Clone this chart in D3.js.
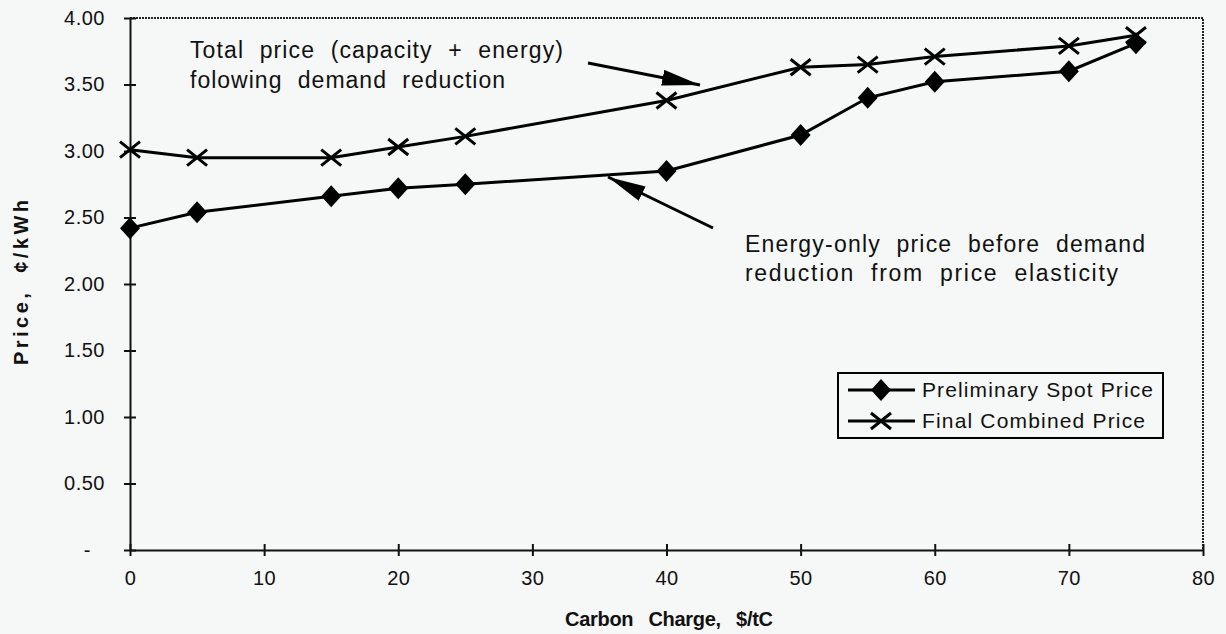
<!DOCTYPE html>
<html lang="en">
<head>
<meta charset="utf-8">
<title>Carbon charge vs price</title>
<script src="https://d3js.org/d3.v7.min.js"></script>
<style>
  body { margin: 0; background: #f6f7f7; }
  svg { display: block; }
</style>
</head>
<body>
<script>
// carbon charge, $/tC
var charge = [0, 5, 15, 20, 25, 40, 50, 55, 60, 70, 75];
// price series, cents/kWh
var spotPrice = [2.42, 2.54, 2.66, 2.72, 2.75, 2.85, 3.12, 3.40, 3.52, 3.60, 3.81];
var finalPrice = [3.01, 2.95, 2.95, 3.03, 3.11, 3.38, 3.63, 3.65, 3.71, 3.79, 3.87];
var xTicks = [0, 10, 20, 30, 40, 50, 60, 70, 80];
var yTicks = [0, 0.5, 1, 1.5, 2, 2.5, 3, 3.5, 4];
var seriesNames = ["Preliminary Spot Price", "Final Combined Price"];

var w = 1226, h = 634;
// plot box (window.top is taken, so use a prefix)
var pLeft = 130, pRight = 1203, pTop = 18, pBottom = 550;
var font = "'Liberation Sans', Arial, sans-serif";

var svg = d3.select("body").append("svg")
  .attr("width", w)
  .attr("height", h);

var x = d3.scaleLinear().domain([0, 80]).range([pLeft, pRight]);
var y = d3.scaleLinear().domain([0, 4]).range([pBottom, pTop]);

// dotted frame on top and right
svg.append("path")
  .attr("d", "M" + pLeft + "," + pTop + "H" + pRight + "V" + pBottom)
  .attr("fill", "none")
  .attr("stroke", "#222")
  .attr("stroke-width", 2)
  .attr("stroke-dasharray", "2,1");

// y axis
var yAxis = d3.axisLeft(y)
  .tickValues(yTicks)
  .tickSizeInner(6)
  .tickSizeOuter(0)
  .tickPadding(19)
  .tickFormat(function(d){ return d === 0 ? "-" : d3.format(".2f")(d); });
var gy = svg.append("g")
  .attr("transform", "translate(" + pLeft + ",0)")
  .call(yAxis);
gy.selectAll(".tick line").attr("x2", 6).attr("x1", -6);
gy.selectAll(".tick text").filter(function(d){ return d === 0; }).attr("dx", -14);

// x axis
var xAxis = d3.axisBottom(x)
  .tickValues(xTicks)
  .tickSizeInner(6)
  .tickSizeOuter(0)
  .tickPadding(15);
var gx = svg.append("g")
  .attr("transform", "translate(0," + pBottom + ")")
  .call(xAxis);
gx.selectAll(".tick line").attr("y1", -6).attr("y2", 6);

svg.selectAll(".domain").attr("stroke", "#111").attr("stroke-width", 2);
svg.selectAll(".tick line").attr("stroke", "#111").attr("stroke-width", 2);
svg.selectAll(".tick text")
  .attr("font-family", font)
  .attr("font-size", 20)
  .attr("letter-spacing", 0.5)
  .attr("fill", "#111");

// axis titles
svg.append("text")
  .attr("x", 565)
  .attr("y", 626)
  .attr("font-family", font)
  .attr("font-weight", "bold")
  .attr("font-size", 20)
  .attr("word-spacing", 10)
  .attr("textLength", 208)
  .attr("lengthAdjust", "spacing")
  .attr("fill", "#111")
  .text("Carbon Charge, $/tC");

svg.append("text")
  .attr("transform", "translate(28,365) rotate(-90)")
  .attr("font-family", font)
  .attr("font-weight", "bold")
  .attr("font-size", 20)
  .attr("word-spacing", 8)
  .attr("textLength", 165)
  .attr("lengthAdjust", "spacing")
  .attr("fill", "#111")
  .text("Price, \u00a2/kWh");

// lines
var line = d3.line()
  .x(function(d){ return x(d[0]); })
  .y(function(d){ return y(d[1]); });

var spotData = d3.zip(charge, spotPrice);
var finalData = d3.zip(charge, finalPrice);

svg.append("path")
  .datum(spotData)
  .attr("d", line)
  .attr("fill", "none")
  .attr("stroke", "#000")
  .attr("stroke-width", 3);

svg.append("path")
  .datum(finalData)
  .attr("d", line)
  .attr("fill", "none")
  .attr("stroke", "#000")
  .attr("stroke-width", 3);

function diamond(cx, cy) {
  return "M" + cx + "," + (cy - 11) + "L" + (cx + 10) + "," + cy +
         "L" + cx + "," + (cy + 11) + "L" + (cx - 10) + "," + cy + "Z";
}
function cross(cx, cy) {
  return "M" + (cx - 10) + "," + (cy - 8) + "L" + (cx + 10) + "," + (cy + 8) +
         "M" + (cx - 10) + "," + (cy + 8) + "L" + (cx + 10) + "," + (cy - 8);
}

svg.selectAll(".spot")
  .data(spotData)
  .enter()
  .append("path")
  .attr("class", "spot")
  .attr("d", function(d){ return diamond(x(d[0]), y(d[1])); })
  .attr("fill", "#000");

svg.selectAll(".final")
  .data(finalData)
  .enter()
  .append("path")
  .attr("class", "final")
  .attr("d", function(d){ return cross(x(d[0]), y(d[1])); })
  .attr("fill", "none")
  .attr("stroke", "#000")
  .attr("stroke-width", 3);

// annotations: text, x, baseline, width
function note(s, x0, y0, len) {
  svg.append("text")
    .attr("x", x0)
    .attr("y", y0)
    .attr("font-family", font)
    .attr("font-size", 23)
    .attr("word-spacing", 8)
    .attr("textLength", len)
    .attr("lengthAdjust", "spacing")
    .attr("fill", "#111")
    .text(s);
}
note("Total price (capacity + energy)", 190, 58, 373);
note("folowing demand reduction", 190, 88, 315);
note("Energy-only price before demand", 745, 252, 400);
note("reduction from price elasticity", 745, 281, 373);

svg.append("defs").append("marker")
  .attr("id", "head")
  .attr("markerUnits", "userSpaceOnUse")
  .attr("viewBox", "0 0 38 16")
  .attr("refX", 38)
  .attr("refY", 8)
  .attr("markerWidth", 38)
  .attr("markerHeight", 16)
  .attr("orient", "auto")
  .append("path")
  .attr("d", "M0,0L38,8L0,16Z")
  .attr("fill", "#000");

svg.append("line")
  .attr("x1", 588).attr("y1", 63)
  .attr("x2", 700).attr("y2", 85)
  .attr("stroke", "#000").attr("stroke-width", 3)
  .attr("marker-end", "url(#head)");

svg.append("line")
  .attr("x1", 713).attr("y1", 228)
  .attr("x2", 608).attr("y2", 177)
  .attr("stroke", "#000").attr("stroke-width", 3)
  .attr("marker-end", "url(#head)");

// legend
var lg = svg.append("g").attr("transform", "translate(838,373)");
lg.append("rect")
  .attr("width", 325)
  .attr("height", 65)
  .attr("fill", "#f6f7f7")
  .attr("stroke", "#000")
  .attr("stroke-width", 2);
var legendLen = [231, 223];
seriesNames.forEach(function(name, i){
  var ly = 17 + i * 31;
  lg.append("line")
    .attr("x1", 10).attr("x2", 77)
    .attr("y1", ly).attr("y2", ly)
    .attr("stroke", "#000").attr("stroke-width", 3);
  lg.append("path")
    .attr("d", i === 0 ? diamond(43, ly) : cross(43, ly))
    .attr("fill", i === 0 ? "#000" : "none")
    .attr("stroke", "#000")
    .attr("stroke-width", i === 0 ? 0 : 3);
  lg.append("text")
    .attr("x", 84)
    .attr("y", ly + 7)
    .attr("font-family", font)
    .attr("font-size", 21)
    .attr("textLength", legendLen[i])
    .attr("lengthAdjust", "spacing")
    .attr("fill", "#111")
    .text(name);
});
</script>
</body>
</html>
